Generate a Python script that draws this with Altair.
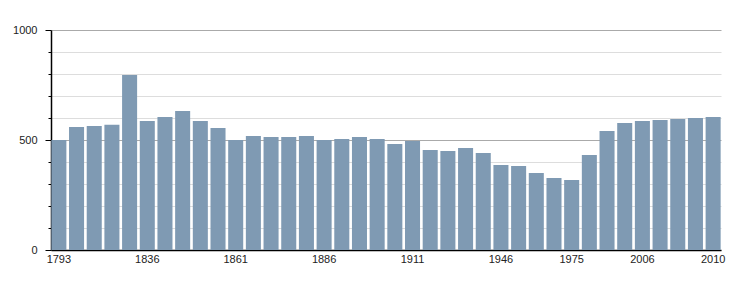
import altair as alt
import pandas as pd

years = ["1793", "1800", "1806", "1821", "1831", "1836", "1841", "1846", "1851", "1856",
         "1861", "1866", "1872", "1876", "1881", "1886", "1891", "1896", "1901", "1906",
         "1911", "1921", "1926", "1931", "1936", "1946", "1954", "1962", "1968", "1975",
         "1982", "1990", "1999", "2006", "2007", "2008", "2009", "2010"]
population = [500, 559, 564, 569, 795, 586, 605, 632, 586, 555,
              500, 518, 514, 514, 518, 500, 505, 514, 505, 482,
              495, 455, 450, 464, 441, 386, 382, 350, 327, 318,
              432, 541, 577, 586, 591, 595, 600, 605]
shown_labels = ["1793", "1836", "1861", "1886", "1911", "1946", "1975", "2006", "2010"]
y_ticks = [0, 100, 200, 300, 400, 500, 600, 700, 800, 900, 1000]

df = pd.DataFrame({"year": years, "pop": population})

label_test = " || ".join("datum.label == '%s'" % s for s in shown_labels)

chart = alt.Chart(df).mark_bar(color="#7f9ab3").encode(
    x=alt.X("year:N", sort=years, title=None,
            scale=alt.Scale(paddingInner=0.15, paddingOuter=0.02),
            axis=alt.Axis(labelAngle=0, ticks=False, domainColor="#000000",
                          labelOverlap=False, labelFont="Liberation Sans",
                          labelFontSize=11, labelColor="#222222", labelPadding=3,
                          labelExpr="(%s) ? datum.label : ''" % label_test)),
    y=alt.Y("pop:Q", title=None,
            scale=alt.Scale(domain=[0, 1000], nice=False),
            axis=alt.Axis(values=y_ticks, format="d", domainColor="#000000",
                          tickColor="#000000",
                          tickSize={"condition": {"test": "datum.value % 500 === 0", "value": 6}, "value": 3},
                          gridColor={"condition": {"test": "datum.value % 500 === 0", "value": "#aaaaaa"}, "value": "#dddddd"},
                          labelExpr="datum.value % 500 === 0 ? datum.label : ''",
                          labelFont="Liberation Sans", labelFontSize=11,
                          labelColor="#222222", labelPadding=8)),
).properties(
    width=670, height=220,
    autosize=alt.AutoSizeParams(type="none"),
    padding={"left": 51, "top": 30, "right": 29, "bottom": 50},
).configure_view(stroke=None).configure_axis(gridWidth=1, domainWidth=1.5)

chart.save("out.html", embed_options={"renderer": "svg", "actions": False})
